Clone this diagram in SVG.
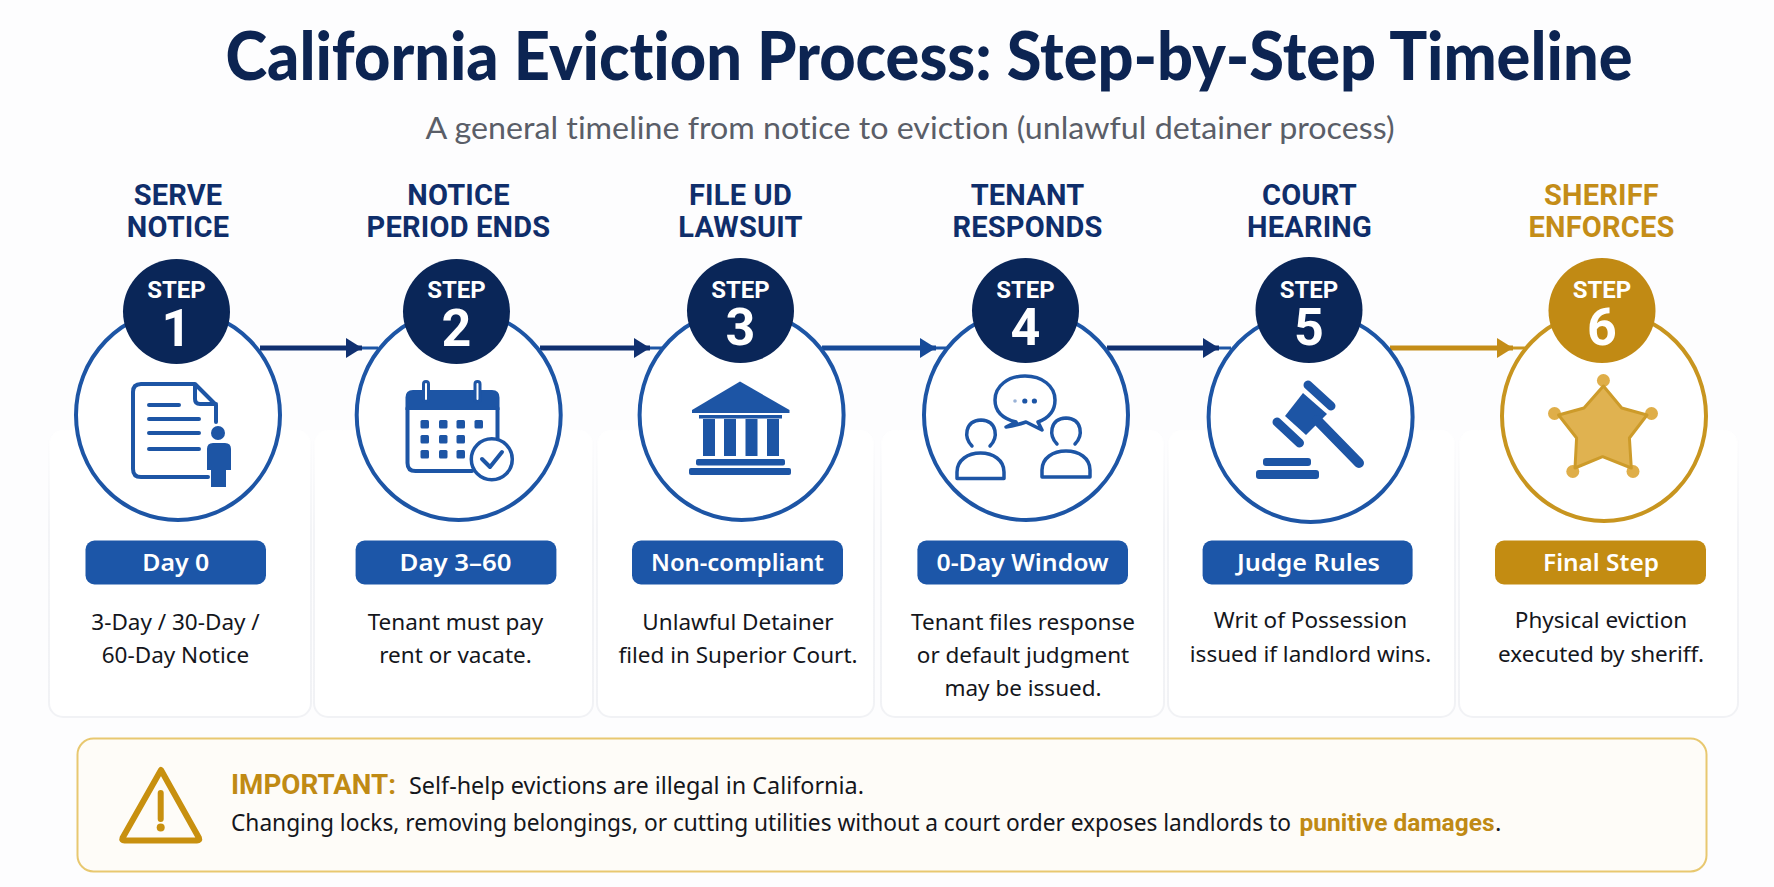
<svg xmlns="http://www.w3.org/2000/svg" width="1774" height="887" viewBox="0 0 1774 887">
<style>
.ttl{font-family:"Lato","Liberation Sans",sans-serif;font-weight:900;text-anchor:middle;font-variant-ligatures:none}
.sub{font-family:"Lato","Liberation Sans",sans-serif;font-size:30px;text-anchor:middle;fill:#5a5e68;font-variant-ligatures:none}
.head{font-family:"Roboto","Liberation Sans",sans-serif;font-weight:700;font-size:29px;letter-spacing:.2px;text-anchor:middle;fill:#0f2e6b}
.gold-t{fill:#c48d18}
.st{font-family:"Roboto","Liberation Sans",sans-serif;font-weight:700;font-size:24px;text-anchor:middle;fill:#fff}
.num{font-family:"Roboto","Liberation Sans",sans-serif;font-weight:700;font-size:52px;text-anchor:middle;fill:#fff}
.pilltx{font-family:"Noto Sans","Liberation Sans",sans-serif;font-weight:600;font-size:24px;text-anchor:middle;fill:#fff}
.desc{font-family:"Noto Sans","Liberation Sans",sans-serif;font-size:22.5px;text-anchor:middle;fill:#14161c}
.ring{fill:#fff;stroke:#1d55a5;stroke-width:4}
.ring-g{fill:#fff;stroke:#c8951f;stroke-width:4}
.badge{fill:#0a2658}
.badge-g{fill:#c18a14}
.pill{fill:#1c56a8}
.pill-g{fill:#c38c12}
.card{fill:#fff;stroke:url(#cardEdge);stroke-width:2}
.ic-f{fill:#1d55a5}
.ic-s{fill:none;stroke:#1d55a5;stroke-width:4;stroke-linecap:round;stroke-linejoin:round}
.warn{font-family:"Noto Sans","Liberation Sans",sans-serif;font-size:24px;fill:#14161c}
.warn-b{font-family:"Roboto","Liberation Sans",sans-serif;font-weight:700;fill:#c08a14}
.thick{fill:none;stroke-width:5}
.thin{fill:none;stroke-width:3}
</style>
<defs>
<linearGradient id="cardEdge" gradientUnits="userSpaceOnUse" x1="0" y1="430" x2="0" y2="717">
<stop offset="0" stop-color="#f2f3f6" stop-opacity="0"/>
<stop offset="0.35" stop-color="#f2f3f6" stop-opacity="0.9"/>
<stop offset="1" stop-color="#f1f2f5"/>
</linearGradient>
<marker id="headNavy" markerUnits="userSpaceOnUse" markerWidth="16" markerHeight="22" refX="16" refY="11" orient="auto"><path d="M0,1 L16,11 L0,21 Z" fill="#103070"/></marker>
<marker id="headBlue" markerUnits="userSpaceOnUse" markerWidth="16" markerHeight="22" refX="16" refY="11" orient="auto"><path d="M0,1 L16,11 L0,21 Z" fill="#174a98"/></marker>
<marker id="headGold" markerUnits="userSpaceOnUse" markerWidth="16" markerHeight="22" refX="16" refY="11" orient="auto"><path d="M0,1 L16,11 L0,21 Z" fill="#c48d18"/></marker>
</defs>
<rect width="1774" height="887" fill="#fdfdfe"/>

<g id="header">
<text class="ttl" x="929" y="80" font-size="67" fill="#0c2452" textLength="1407" lengthAdjust="spacingAndGlyphs">California Eviction Process: Step-by-Step Timeline</text>
<text class="sub" x="910" y="139" textLength="969" lengthAdjust="spacingAndGlyphs">A general timeline from notice to eviction (unlawful detainer process)</text>
</g>

<g id="cards">
<rect class="card" x="49" y="430" width="262" height="287" rx="14"/>
<rect class="card" x="314" y="430" width="279" height="287" rx="14"/>
<rect class="card" x="597" y="430" width="277" height="287" rx="14"/>
<rect class="card" x="881" y="430" width="283" height="287" rx="14"/>
<rect class="card" x="1168" y="430" width="287" height="287" rx="14"/>
<rect class="card" x="1459" y="430" width="279" height="287" rx="14"/>
</g>

<g id="connectors">
<path class="thick" d="M260,348 H362" stroke="#103070" marker-end="url(#headNavy)"/>
<path class="thin" d="M362,348 H378" stroke="#1d55a5"/>
<path class="thick" d="M540,348 H650" stroke="#103070" marker-end="url(#headNavy)"/>
<path class="thin" d="M650,348 H662" stroke="#1d55a5"/>
<path class="thick" d="M822,348 H936" stroke="#174a98" marker-end="url(#headBlue)"/>
<path class="thin" d="M936,348 H946" stroke="#1d55a5"/>
<path class="thick" d="M1107,348 H1219" stroke="#103070" marker-end="url(#headNavy)"/>
<path class="thin" d="M1219,348 H1231" stroke="#1d55a5"/>
<path class="thick" d="M1390,348 H1513" stroke="#c48d18" marker-end="url(#headGold)"/>
<path class="thin" d="M1513,348 H1525" stroke="#c8951f"/>
</g>

<g id="step-1">
<text class="head" x="178" y="205">SERVE</text>
<text class="head" x="178" y="237">NOTICE</text>
<ellipse class="ring" cx="178" cy="415" rx="102" ry="105"/>
<ellipse class="badge" cx="176.5" cy="311.5" rx="53.5" ry="52.5"/>
<text class="st" x="176.5" y="298">STEP</text>
<text class="num" x="176.5" y="345.5">1</text>
<path class="ic-s" d="M195,384 H141 q-8,0 -8,8 V469 q0,8 8,8 H208 M195,384 L216,405 V422 M195,384 V399 q0,5 5,5 H216"/>
<path class="ic-s" d="M149,405 H179 M149,419 H199 M149,433 H199 M149,449 H199"/>
<circle class="ic-f" cx="218" cy="433" r="7"/>
<path class="ic-f" d="M213,443 H225 q6,0 6,6 V470 H226 V487 H211 V470 H207 V449 q0,-6 6,-6 Z"/>
<rect class="pill" x="85.5" y="540.5" width="180.5" height="44" rx="9"/>
<text class="pilltx" x="175.8" y="571" textLength="67" lengthAdjust="spacingAndGlyphs">Day 0</text>
<text class="desc" x="175.5" y="629.5">3-Day / 30-Day /</text>
<text class="desc" x="175.5" y="663">60-Day Notice</text>
</g>

<g id="step-2">
<text class="head" x="458.5" y="205">NOTICE</text>
<text class="head" x="458.5" y="237">PERIOD ENDS</text>
<ellipse class="ring" cx="458.7" cy="415" rx="102" ry="105"/>
<ellipse class="badge" cx="456.5" cy="311.5" rx="53.5" ry="52.5"/>
<text class="st" x="456.5" y="298">STEP</text>
<text class="num" x="456.5" y="345.5">2</text>
<path class="ic-f" d="M413,390 H492 q7.5,0 7.5,7.5 V410 H405.5 V397.5 q0,-7.5 7.5,-7.5 Z"/>
<path class="ic-s" d="M407.5,408 V463 q0,8 8,8 H472 M497.5,408 V440"/>
<g fill="#fff" stroke="#1d55a5" stroke-width="3"><rect x="423.5" y="381.5" width="5" height="20" rx="2.5"/><rect x="475" y="381.5" width="5" height="20" rx="2.5"/></g>
<g class="ic-f"><rect x="420.5" y="420" width="8.5" height="8.5" rx="1.5"/><rect x="439" y="420" width="8.5" height="8.5" rx="1.5"/><rect x="456.5" y="420" width="8.5" height="8.5" rx="1.5"/><rect x="474.5" y="420" width="8.5" height="8.5" rx="1.5"/><rect x="420.5" y="435" width="8.5" height="8.5" rx="1.5"/><rect x="439" y="435" width="8.5" height="8.5" rx="1.5"/><rect x="456.5" y="435" width="8.5" height="8.5" rx="1.5"/><rect x="420.5" y="450" width="8.5" height="8.5" rx="1.5"/><rect x="439" y="450" width="8.5" height="8.5" rx="1.5"/><rect x="456.5" y="450" width="8.5" height="8.5" rx="1.5"/></g>
<circle cx="491.8" cy="459.3" r="20.5" fill="#fff" stroke="#1d55a5" stroke-width="3.5"/>
<path class="ic-s" d="M482,459 L490,467 L502,452"/>
<rect class="pill" x="355.6" y="540.5" width="200.8" height="44" rx="9"/>
<text class="pilltx" x="455.5" y="571" textLength="112" lengthAdjust="spacingAndGlyphs">Day 3–60</text>
<text class="desc" x="455.5" y="629.5">Tenant must pay</text>
<text class="desc" x="455.5" y="663">rent or vacate.</text>
</g>

<g id="step-3">
<text class="head" x="740.5" y="205">FILE UD</text>
<text class="head" x="740.5" y="237">LAWSUIT</text>
<ellipse class="ring" cx="741.6" cy="415" rx="102" ry="105"/>
<ellipse class="badge" cx="740.5" cy="310.5" rx="53.5" ry="52.5"/>
<text class="st" x="740.5" y="297.5">STEP</text>
<text class="num" x="740.5" y="345">3</text>
<g class="ic-f">
<path d="M740,381.5 L789.5,410 V413 H692 V410 Z"/>
<rect x="699" y="415" width="83" height="3.5"/>
<rect x="703" y="419" width="12" height="37"/><rect x="724" y="419" width="12" height="37"/><rect x="745.5" y="419" width="12" height="37"/><rect x="767" y="419" width="12" height="37"/>
<rect x="696" y="459" width="89" height="6.5" rx="2"/>
<rect x="689" y="468" width="102" height="7" rx="2"/>
</g>
<rect class="pill" x="632" y="540.5" width="211" height="44" rx="9"/>
<text class="pilltx" x="737.5" y="571" textLength="173" lengthAdjust="spacingAndGlyphs">Non-compliant</text>
<text class="desc" x="738" y="629.5">Unlawful Detainer</text>
<text class="desc" x="738" y="663">filed in Superior Court.</text>
</g>

<g id="step-4">
<text class="head" x="1027.5" y="205">TENANT</text>
<text class="head" x="1027.5" y="237">RESPONDS</text>
<ellipse class="ring" cx="1026" cy="415" rx="102" ry="105"/>
<ellipse class="badge" cx="1025.5" cy="310.5" rx="53.5" ry="52.5"/>
<text class="st" x="1025.5" y="297.5">STEP</text>
<text class="num" x="1025.5" y="345">4</text>
<path class="ic-s" style="stroke-width:3.5" d="M1016,422 C1000,418 995,410 995,400 C995,386 1008,376 1025,376 C1042,376 1055,386 1055,400 C1055,410 1049,418 1038,422 L1042,430 L1026,422 C1020,424 1012,426 1006,427 Z"/>
<g class="ic-f"><circle cx="1015" cy="401" r="1.8" opacity="0.45"/><circle cx="1024.8" cy="401" r="2.6"/><circle cx="1034.4" cy="401" r="2.6"/></g>
<path class="ic-s" style="stroke-width:3.5" d="M972,446 C964,438 964,421 981,420 C998,421 998,438 990,446 M957,478.5 V472 C957,460 968,453 980.5,453 C993,453 1004,460 1004,472 V478.5 Z"/>
<path class="ic-s" style="stroke-width:3.5" d="M1057,444 C1049,436 1049,419 1066,418 C1083,419 1083,436 1075,444 M1042,477 V470 C1042,458 1053,451 1066,451 C1079,451 1090,458 1090,470 V477 Z"/>
<rect class="pill" x="917.4" y="540.5" width="210.6" height="44" rx="9"/>
<text class="pilltx" x="1022.5" y="571" textLength="172" lengthAdjust="spacingAndGlyphs">0-Day Window</text>
<text class="desc" x="1023" y="629.5">Tenant files response</text>
<text class="desc" x="1023" y="663">or default judgment</text>
<text class="desc" x="1023" y="696">may be issued.</text>
</g>

<g id="step-5">
<text class="head" x="1309.5" y="205">COURT</text>
<text class="head" x="1309.5" y="237">HEARING</text>
<ellipse class="ring" cx="1310.6" cy="417" rx="102" ry="105"/>
<ellipse class="badge" cx="1309" cy="310" rx="53.5" ry="53"/>
<text class="st" x="1309" y="297.5">STEP</text>
<text class="num" x="1309" y="345">5</text>
<path d="M1308,385 L1331,406 M1277,422 L1299.5,443" fill="none" stroke="#1d55a5" stroke-width="9" stroke-linecap="round"/>
<path class="ic-f" d="M1303,393 L1327,414 L1306,435 L1285,416 Z"/>
<path d="M1317,420 L1359,463" fill="none" stroke="#1d55a5" stroke-width="10" stroke-linecap="round"/>
<rect class="ic-f" x="1263" y="458" width="48" height="8" rx="3"/>
<rect class="ic-f" x="1256" y="470" width="63" height="9" rx="3"/>
<rect class="pill" x="1202.6" y="540.5" width="210" height="44" rx="9"/>
<text class="pilltx" x="1308.5" y="571" textLength="143" lengthAdjust="spacingAndGlyphs">Judge Rules</text>
<text class="desc" x="1310.5" y="628">Writ of Possession</text>
<text class="desc" x="1310.5" y="662">issued if landlord wins.</text>
</g>

<g id="step-6">
<text class="head gold-t" x="1601.5" y="205">SHERIFF</text>
<text class="head gold-t" x="1601.5" y="237">ENFORCES</text>
<ellipse class="ring-g" cx="1604" cy="416" rx="102" ry="105"/>
<ellipse class="badge-g" cx="1602" cy="310.5" rx="53.5" ry="52.5"/>
<text class="st" x="1602" y="297.5">STEP</text>
<text class="num" x="1602" y="345">6</text>
<g fill="#dfae49"><circle cx="1603.4" cy="380.5" r="6.5"/><circle cx="1651.5" cy="413.5" r="6.5"/><circle cx="1633" cy="471.5" r="6.5"/><circle cx="1572.8" cy="471.5" r="6.5"/><circle cx="1554.5" cy="413.5" r="6.5"/></g>
<path d="M1603.4,386 L1621.7,408 L1647,415 L1629.4,438 L1631.3,468 L1602.6,456.7 L1575,468 L1576.6,438 L1558.6,415 L1584,408 Z" fill="#e0b250" stroke="#cd9b2a" stroke-width="3" stroke-linejoin="round"/>
<rect class="pill-g" x="1495" y="540.5" width="211" height="44" rx="9"/>
<text class="pilltx" x="1601" y="571" textLength="116" lengthAdjust="spacingAndGlyphs">Final Step</text>
<text class="desc" x="1601" y="628">Physical eviction</text>
<text class="desc" x="1601" y="662">executed by sheriff.</text>
</g>

<g id="warning">
<rect x="77.5" y="738.5" width="1629" height="133" rx="16" fill="#fefcf8" stroke="#e8c870" stroke-width="2"/>
<path d="M161,770 L199,838 Q200,840.5 197,840.5 H124.5 Q121.5,840.5 122.5,838 Z" fill="none" stroke="#c8900f" stroke-width="6" stroke-linejoin="round"/>
<path d="M160.7,793 V819" stroke="#c8900f" stroke-width="6" stroke-linecap="round" fill="none"/>
<circle cx="160.7" cy="827.5" r="4" fill="#c8900f"/>
<text class="warn-b" x="231" y="794" font-size="27" textLength="165" lengthAdjust="spacingAndGlyphs">IMPORTANT:</text>
<text class="warn" x="409" y="794" textLength="455" lengthAdjust="spacingAndGlyphs">Self-help evictions are illegal in California.</text>
<text class="warn" x="231" y="831" textLength="1060" lengthAdjust="spacingAndGlyphs">Changing locks, removing belongings, or cutting utilities without a court order exposes landlords to</text>
<text class="warn-b" x="1299.5" y="831" font-size="24" textLength="195" lengthAdjust="spacingAndGlyphs">punitive damages</text>
<text class="warn" x="1495" y="831">.</text>
</g>
</svg>
